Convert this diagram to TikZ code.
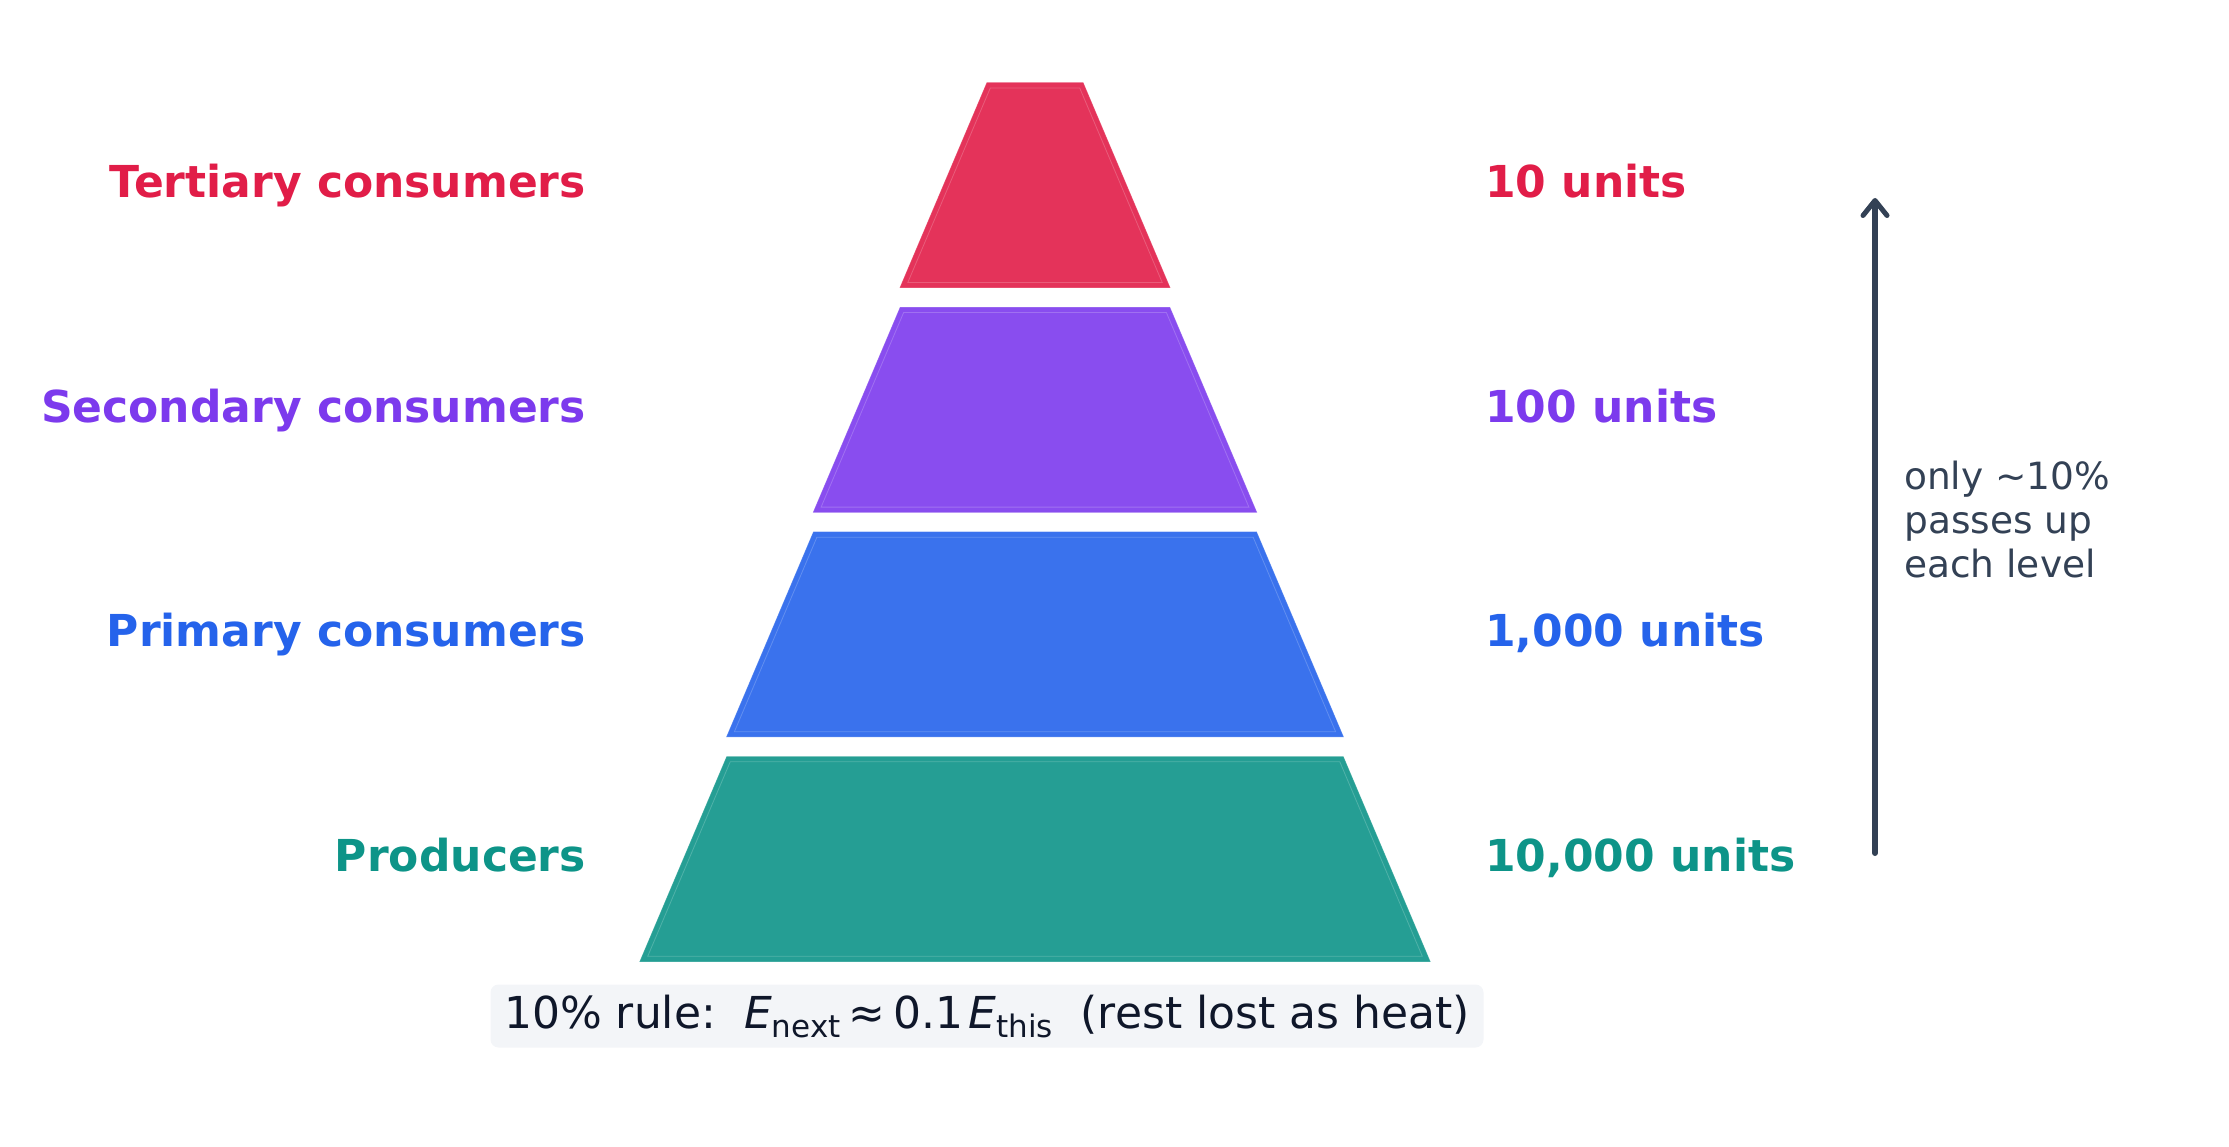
\documentclass[tikz,border=0pt]{standalone}
\usepackage{fontspec}
\setmainfont{DejaVu Sans}
\usetikzlibrary{arrows.meta}
\definecolor{cRed}{HTML}{E11D48}
\definecolor{cPurple}{HTML}{7C3AED}
\definecolor{cBlue}{HTML}{2563EB}
\definecolor{cTeal}{HTML}{0D9488}
\definecolor{slate}{HTML}{334155}
\definecolor{ink}{HTML}{0F172A}
\definecolor{boxbg}{HTML}{F3F5F8}
\tikzset{
  lvllabel/.style={inner sep=0pt, font=\fontsize{44}{53}\selectfont\bfseries},
  notetext/.style={inner sep=0pt, anchor=base west, text=slate, font=\fontsize{37.5}{45}\selectfont},
  rulebox/.style={inner sep=0pt, fill=boxbg, rounded corners=8pt, minimum width=993pt, minimum height=63pt,
    text height=33pt, text depth=9pt, text=ink, font=\fontsize{44}{53}\selectfont},
  flow/.style={slate, line width=6pt, line cap=round, -{Straight Barb[round, length=15pt, width=24pt, line width=5pt]}}
}
\newcommand{\subtxt}[1]{\raisebox{-9pt}{\fontsize{31}{31}\selectfont #1}}
\begin{document}
\begin{tikzpicture}[x=1pt, y=-1pt]
\useasboundingbox (0,0) rectangle (2229,1147);
\foreach \i/\col/\lab/\val in {0/cRed/Tertiary consumers/10 units,
                                 1/cPurple/Secondary consumers/100 units,
                                 2/cBlue/Primary consumers/{1,000 units},
                                 3/cTeal/Producers/{10,000 units}}{
  \pgfmathsetmacro\yt{83+224.6*\i}
  \pgfmathsetmacro\yb{\yt+204.5}
  \pgfmathsetmacro\wt{48+86.7*\i}
  \pgfmathsetmacro\wb{\wt+86.7}
  \pgfmathsetmacro\yc{(\yt+\yb)/2}
  \path[fill=\col, fill opacity=0.9, draw=\col!90!white, draw opacity=0.8, line width=1pt]
    ({1035-\wt},\yt) -- ({1035+\wt},\yt) -- ({1035+\wb},\yb) -- ({1035-\wb},\yb) -- cycle;
  \draw[white, opacity=0.2, line width=0.8pt]
    ({1035-\wt+3.3},{\yt+5}) -- ({1035+\wt-3.3},{\yt+5}) -- ({1035+\wb-7.5},{\yb-5}) -- ({1035-\wb+7.5},{\yb-5}) -- cycle;
  \node[lvllabel, text=\col, anchor=base east] (L\i) at (586,{\yc+12.5}) {\lab};
  \node[lvllabel, text=\col, anchor=base west] (V\i) at (1485,{\yc+12.5}) {\val};
}
\coordinate (abot) at (1875,853);
\coordinate (atop) at (1875,198);
\draw[flow] (abot) -- (atop);
\node[notetext] (n1) at (1904,489) {only \textasciitilde10\%};
\node[notetext] (n2) at (1904,533) {passes up};
\node[notetext] (n3) at (1904,577) {each level};
\node[rulebox] (rule) at (987,1016) {10\% rule:\ \ \textit{E}\subtxt{next}\hspace{8pt}≈\hspace{8pt}0.1\hspace{5pt}\textit{E}\subtxt{this}\ \ (rest lost as heat)};
\end{tikzpicture}
\end{document}
